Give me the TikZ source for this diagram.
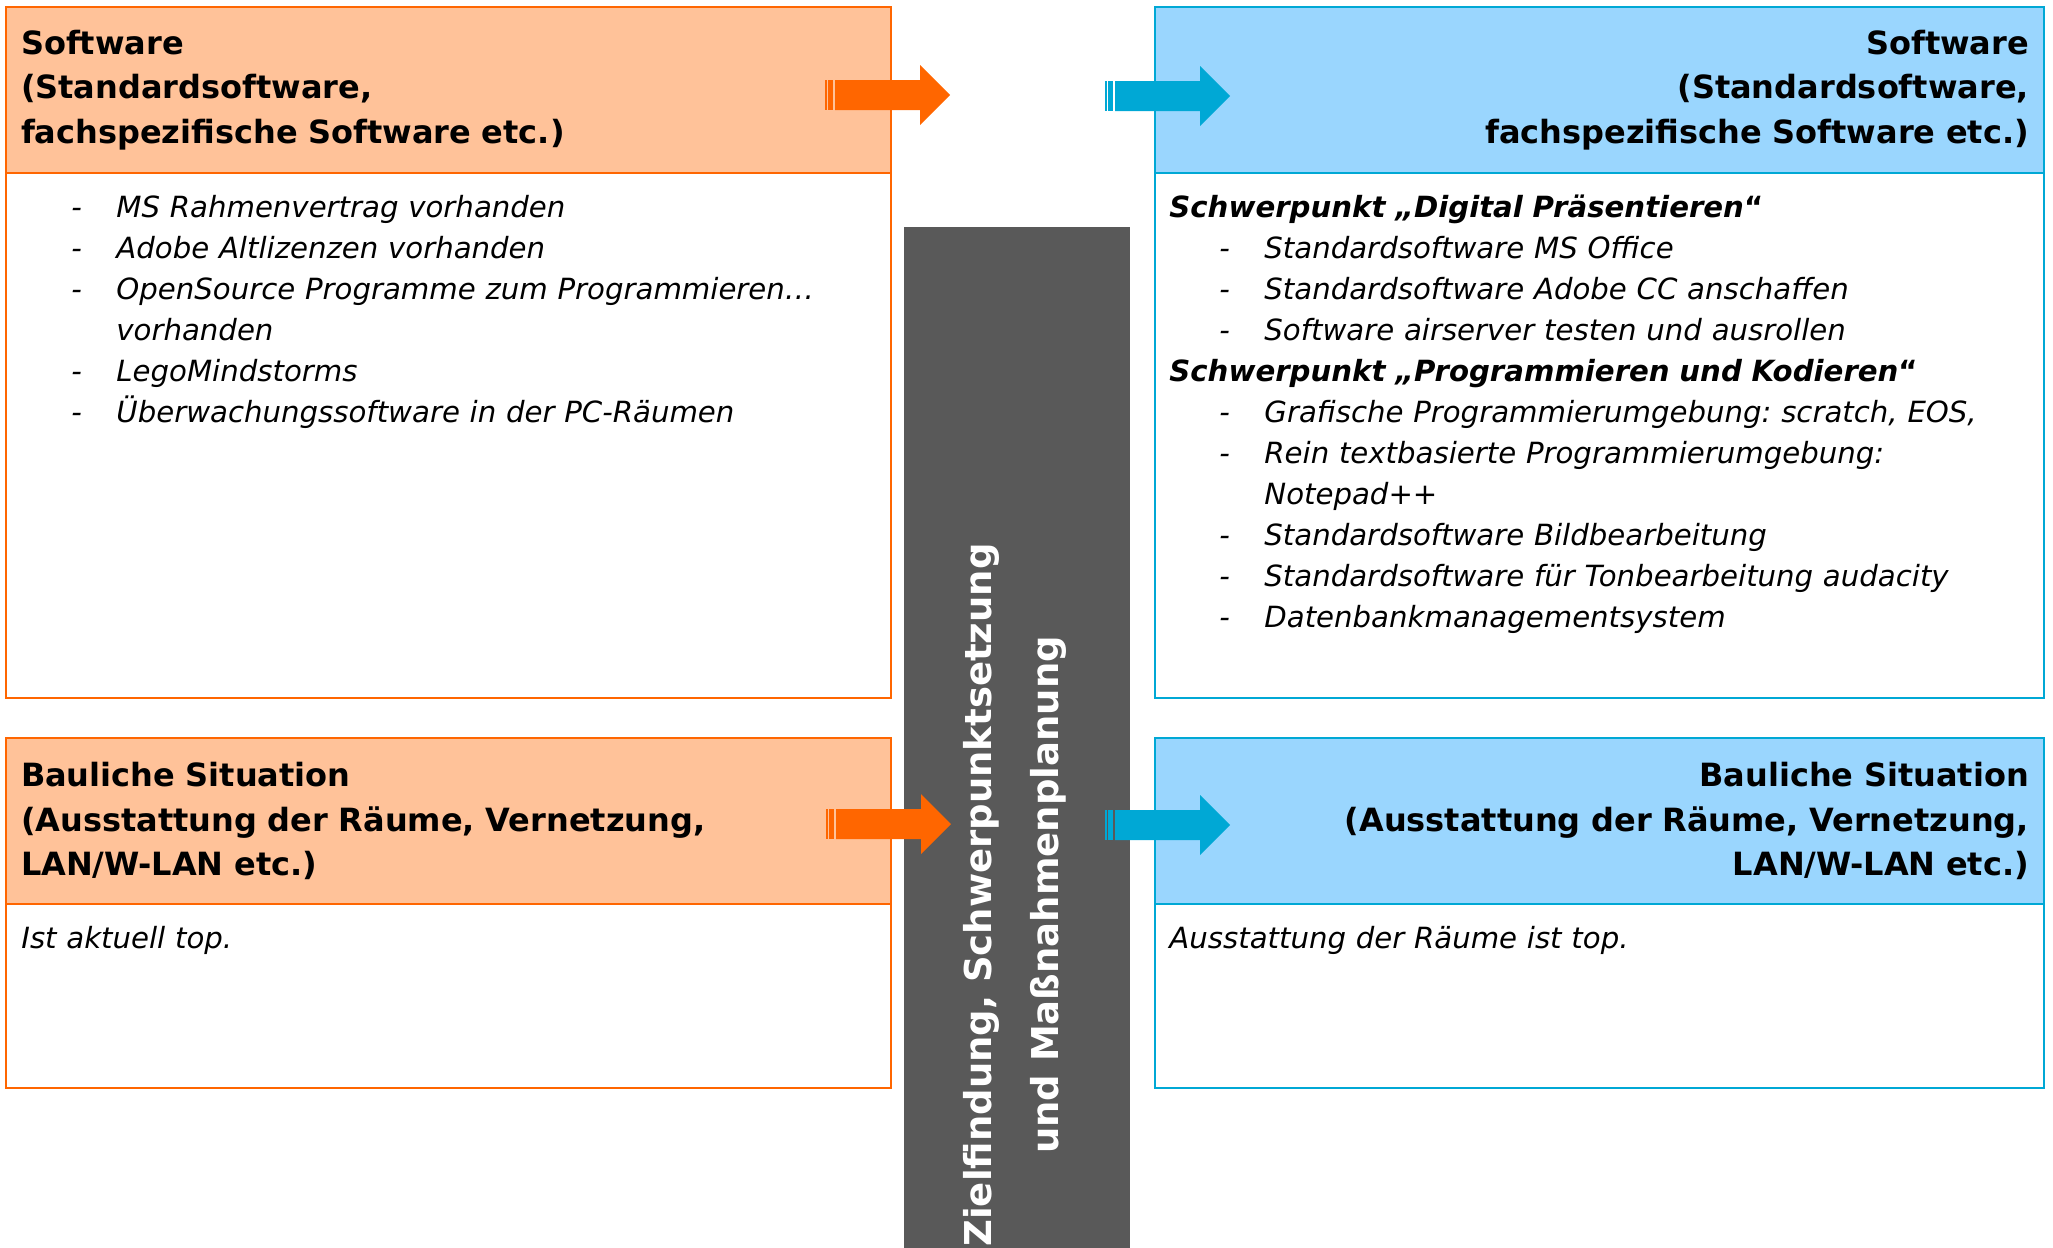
\documentclass[tikz,border=0pt]{standalone}
\usepackage{fontspec}
\setmainfont{DejaVu Sans}
\frenchspacing
\definecolor{oline}{HTML}{FF6600}
\definecolor{ofill}{HTML}{FFC299}
\definecolor{bline}{HTML}{00A8D5}
\definecolor{bfill}{HTML}{9AD6FE}
\definecolor{bargray}{HTML}{595959}
\newcommand\dashline[1]{\hangindent=47.5pt\hangafter=1\makebox[47.5pt][l]{\hspace{25pt}-}#1\par}

\begin{document}
\begin{tikzpicture}[x=0.5pt,y=-0.5pt,
  hdr/.style={rectangle,line width=1pt,outer sep=0pt,inner xsep=7.5pt,minimum height=83pt,
    font=\fontsize{16}{22.25}\selectfont\bfseries},
  lhead/.style={hdr,draw=oline,fill=ofill,align=left,text width=427.5pt,minimum width=442.5pt},
  rhead/.style={hdr,draw=bline,fill=bfill,align=right,text width=429.5pt,minimum width=444.5pt},
  lbody/.style={rectangle,draw=oline,line width=1pt,outer sep=0pt,minimum width=442.5pt,minimum height=#1},
  rbody/.style={rectangle,draw=bline,line width=1pt,outer sep=0pt,minimum width=444.5pt,minimum height=#1},
  txt/.style={anchor=base west,inner sep=0pt,text width=425pt,align=left,
    font=\fontsize{14.6}{20.5}\selectfont\itshape},
  plan/.style={fill=bargray,minimum width=113pt,minimum height=510.5pt,inner sep=0pt},
  pics/stripearrow/.style={code={
    \fill[pic actions] (0,-15) rectangle (1.7,15);
    \fill[pic actions] (3.3,-15) rectangle (8.3,15);
    \fill[pic actions] (10,-15) -- (95,-15) -- (95,-30) -- (125,0) -- (95,30) -- (95,15) -- (10,15) -- cycle;
  }}]
  \useasboundingbox (0,0) rectangle (2053,1248);

  \node[plan] (bar) at (1017,737.5) {};
  \node[rotate=90,align=center,text=white,font=\fontsize{18.5}{33.5}\selectfont\bfseries] (bartxt) at (1015,895)
    {Zielfindung, Schwerpunktsetzung\\und Maßnahmenplanung};

  \node[lhead] (swL) at (448.5,90) {Software\\(Standardsoftware,\\fachspezifische Software etc.)};
  \node[lbody=262.5pt] (swLb) at (448.5,435.5) {};
  \node[txt] (swLt) at (21,217) {%
    \dashline{MS Rahmenvertrag vorhanden}
    \dashline{Adobe Altlizenzen vorhanden}
    \dashline{OpenSource Programme zum Programmieren…\newline vorhanden}
    \dashline{LegoMindstorms}
    \dashline{Überwachungssoftware in der PC-Räumen}};

  \node[rhead] (swR) at (1599.5,90) {Software\\(Standardsoftware,\\fachspezifische Software etc.)};
  \node[rbody=262.5pt] (swRb) at (1599.5,435.5) {};
  \node[txt] (swRt) at (1169,217) {%
    {\bfseries Schwerpunkt „Digital Präsentieren\textup{“}}\par
    \dashline{Standardsoftware MS Office}
    \dashline{Standardsoftware Adobe CC anschaffen}
    \dashline{Software airserver testen und ausrollen}
    {\bfseries Schwerpunkt „Programmieren und Kodieren\textup{“}}\par
    \dashline{Grafische Programmierumgebung: scratch, EOS,}
    \dashline{Rein textbasierte Programmierumgebung:\newline Notepad++}
    \dashline{Standardsoftware Bildbearbeitung}
    \dashline{Standardsoftware für Tonbearbeitung audacity}
    \dashline{Datenbankmanagementsystem}};

  \node[lhead] (bsL) at (448.5,821) {Bauliche Situation\\(Ausstattung der Räume, Vernetzung,\\LAN/W-LAN etc.)};
  \node[lbody=92pt] (bsLb) at (448.5,996) {};
  \node[txt] (bsLt) at (21,948) {Ist aktuell top.};

  \node[rhead] (bsR) at (1599.5,821) {Bauliche Situation\\(Ausstattung der Räume, Vernetzung,\\LAN/W-LAN etc.)};
  \node[rbody=92pt] (bsRb) at (1599.5,996) {};
  \node[txt] (bsRt) at (1169,948) {Ausstattung der Räume ist top.};

  \pic[fill=oline] (arrTL) at (825,95) {stripearrow};
  \pic[fill=bline] (arrTR) at (1105,96) {stripearrow};
  \pic[fill=oline] (arrBL) at (826,824) {stripearrow};
  \pic[fill=bline] (arrBR) at (1105,825) {stripearrow};
\end{tikzpicture}
\end{document}
